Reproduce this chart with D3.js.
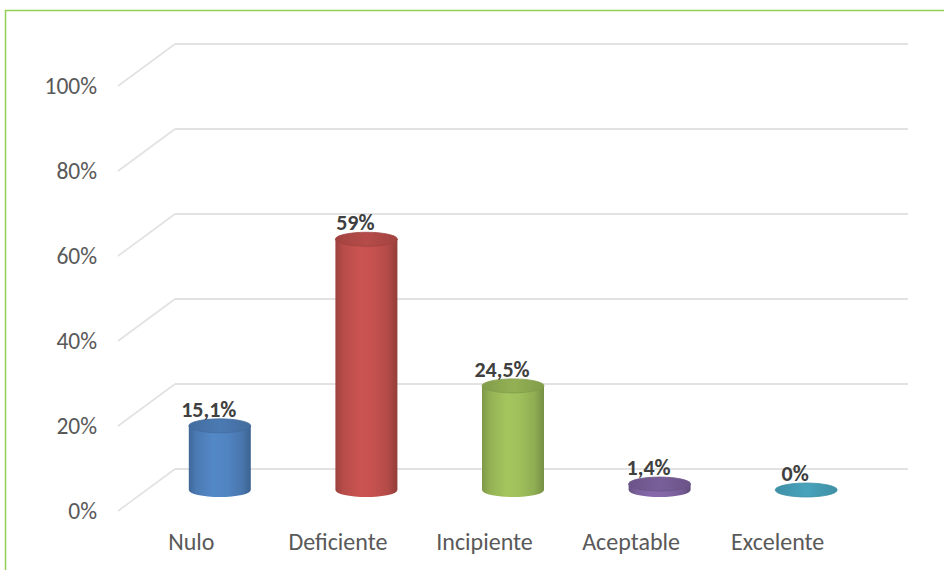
<!DOCTYPE html>
<html>
<head>
<meta charset="utf-8">
<script src="https://cdn.jsdelivr.net/npm/d3@7"></script>
<style>
  html, body { margin: 0; padding: 0; background: #ffffff; }
  svg { display: block; font-family: Carlito, Calibri, Lato, "Open Sans", sans-serif; }
</style>
</head>
<body>
<svg id="chart" width="944" height="570"></svg>
<script>
// Data
const categories = ["Nulo", "Deficiente", "Incipiente", "Aceptable", "Excelente"];
const values = [0.151, 0.59, 0.245, 0.014, 0.0];
const valueLabels = ["15,1%", "59%", "24,5%", "1,4%", "0%"];
const tickValues = [0, 0.2, 0.4, 0.6, 0.8, 1.0];
const barColors = ["#4F81BD", "#C0504D", "#9BBB59", "#8064A2", "#4BACC6"];

const FONT = "Carlito, Calibri, Lato, 'Open Sans', sans-serif";
const svg = d3.select("#chart");
const defs = svg.append("defs");

// Outer frame
svg.append("rect")
  .attr("x", 5.5).attr("y", 10.5)
  .attr("width", 1000).attr("height", 600)
  .attr("fill", "none")
  .attr("stroke", "#92D050")
  .attr("stroke-width", 1.5);

// 3D geometry: front plane and depth offset to the back wall
const front = { left: 118, right: 851, bottom: 511, top: 86 };
const depth = { dx: 57, dy: -42 };

const yFront = d3.scaleLinear().domain([0, 1]).range([front.bottom, front.top]);
const x = d3.scaleBand().domain(categories).range([front.left, front.right]);

// Gridlines: diagonal on the side wall + line on the back wall
const grid = svg.append("g").attr("class", "grid");
grid.selectAll("path.side")
  .data(tickValues)
  .join("path")
  .attr("class", "side")
  .attr("d", t => {
    const y0 = yFront(t);
    return `M${front.left},${y0} L${front.left + depth.dx},${y0 + depth.dy}`;
  })
  .attr("fill", "none")
  .attr("stroke", "#E2E2E2")
  .attr("stroke-width", 1.6);
grid.selectAll("path.back")
  .data(tickValues)
  .join("path")
  .attr("class", "back")
  .attr("d", t => {
    const y0 = yFront(t) + depth.dy;
    return `M${front.left + depth.dx},${y0} L${front.right + depth.dx},${y0}`;
  })
  .attr("fill", "none")
  .attr("stroke", "#D9D9D9")
  .attr("stroke-width", 1.6);

// Y axis
const yAxis = d3.axisLeft(yFront)
  .tickValues(tickValues)
  .tickFormat(d => Math.round(d * 100) + "%")
  .tickSize(0)
  .tickPadding(0);
const gy = svg.append("g")
  .attr("transform", `translate(${97},0)`)
  .call(yAxis);
gy.select(".domain").remove();
gy.selectAll("text")
  .attr("fill", "#595959")
  .attr("font-size", 23.5)
  .attr("font-family", FONT);

// X axis labels
const xAxis = d3.axisBottom(x).tickSize(0).tickPadding(0);
const gx = svg.append("g")
  .attr("transform", `translate(0,${533})`)
  .call(xAxis);
gx.select(".domain").remove();
gx.selectAll("text")
  .attr("fill", "#595959")
  .attr("font-size", 24)
  .attr("font-family", FONT);

// Cylinder shading gradients
function shade(c, k) {
  const col = d3.color(c);
  return k >= 0 ? col.brighter(k).formatHex() : col.darker(-k).formatHex();
}
barColors.forEach((c, i) => {
  const g = defs.append("linearGradient")
    .attr("id", "side" + i)
    .attr("x1", "0%").attr("x2", "100%").attr("y1", "0%").attr("y2", "0%");
  [[0, -0.6], [0.12, -0.15], [0.4, 0.15], [0.6, 0.08], [0.85, -0.22], [1, -0.75]]
    .forEach(([o, k]) => g.append("stop").attr("offset", o).attr("stop-color", shade(c, k)));
  const t = defs.append("linearGradient")
    .attr("id", "top" + i)
    .attr("x1", "0%").attr("x2", "100%").attr("y1", "0%").attr("y2", "0%");
  [[0, -0.5], [0.5, -0.15], [1, -0.5]]
    .forEach(([o, k]) => t.append("stop").attr("offset", o).attr("stop-color", shade(c, k)));
});

// Bars sit at mid-depth
const mid = { dx: depth.dx / 2, dy: depth.dy / 2 };
const rx = 31, ry = 7;
const bars = svg.append("g").attr("class", "bars");

categories.forEach((cat, i) => {
  const cx = x(cat) + x.bandwidth() / 2 + mid.dx;
  const yb = yFront(0) + mid.dy;
  const yt = yFront(values[i]) + mid.dy;
  const g = bars.append("g");
  if (yb - yt > 0.5) {
    // side body with rounded bottom
    g.append("path")
      .attr("d", `M${cx - rx},${yt} L${cx - rx},${yb} A${rx},${ry} 0 0 0 ${cx + rx},${yb} L${cx + rx},${yt} Z`)
      .attr("fill", `url(#side${i})`);
  }
  // top cap
  g.append("ellipse")
    .attr("cx", cx).attr("cy", yt)
    .attr("rx", rx).attr("ry", ry)
    .attr("fill", `url(#top${i})`)
    .attr("stroke", shade(barColors[i], -0.5))
    .attr("stroke-width", 0.8);

  // value label
  svg.append("text")
    .attr("x", cx - 11)
    .attr("y", yt - 9)
    .attr("text-anchor", "middle")
    .attr("font-size", 22)
    .attr("font-weight", "bold")
    .attr("font-family", FONT)
    .attr("fill", "#404040")
    .text(valueLabels[i]);
});
</script>
</body>
</html>
